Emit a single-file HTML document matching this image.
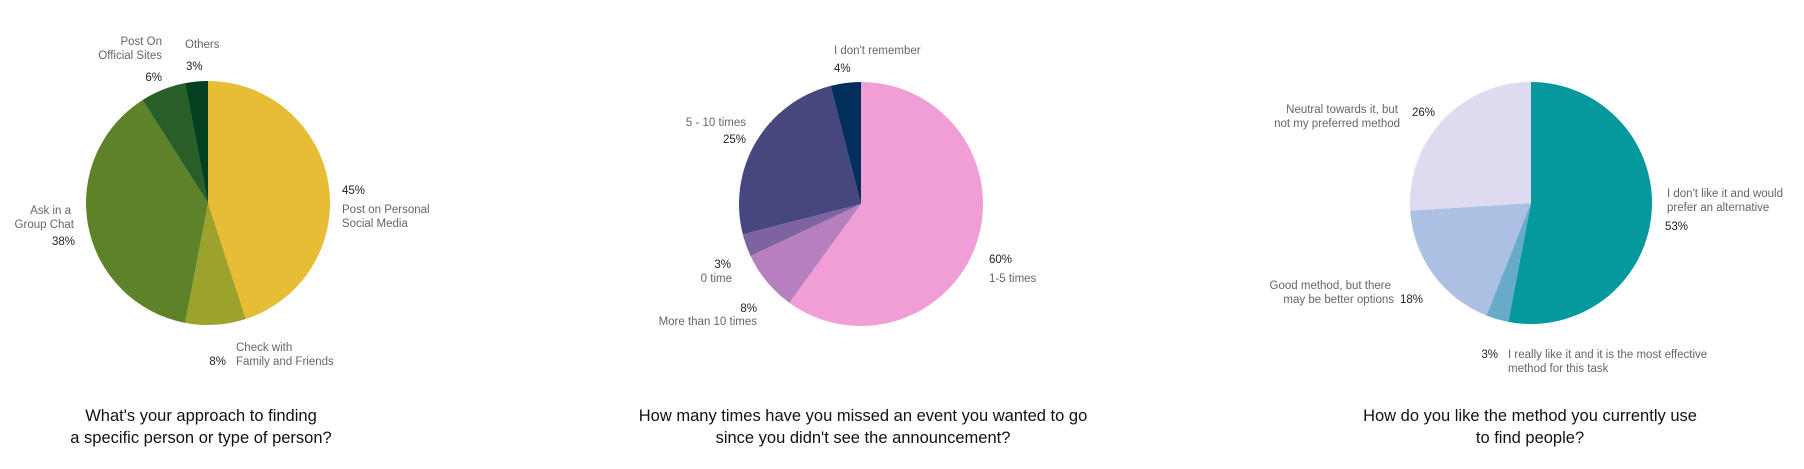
<!DOCTYPE html>
<html><head><meta charset="utf-8">
<style>
html,body{margin:0;padding:0;background:#fff;}
svg{display:block;}
text{font-family:"Liberation Sans",sans-serif;}
.lb{font-size:11.5px;fill:#666;}
.pc{font-size:11.5px;fill:#222;}
.tt{font-size:16.5px;fill:#111;}
</style></head>
<body>
<svg id="chart" width="1804" height="469" viewBox="0 0 1804 469" xmlns="http://www.w3.org/2000/svg">
<g id="c1"></g>
<g id="c2"></g>
<g id="c3"></g>

<g>
<text class="lb" x="162" y="45" text-anchor="end">Post On</text>
<text class="lb" x="162" y="59" text-anchor="end">Official Sites</text>
<text class="pc" x="162" y="81" text-anchor="end">6%</text>
<text class="lb" x="185" y="48">Others</text>
<text class="pc" x="186" y="70">3%</text>
<text class="pc" x="342" y="194">45%</text>
<text class="lb" x="342" y="213">Post on Personal</text>
<text class="lb" x="342" y="227">Social Media</text>
<text class="lb" x="71" y="214" text-anchor="end">Ask in a</text>
<text class="lb" x="74" y="228" text-anchor="end">Group Chat</text>
<text class="pc" x="75" y="245" text-anchor="end">38%</text>
<text class="lb" x="236" y="351">Check with</text>
<text class="lb" x="236" y="365">Family and Friends</text>
<text class="pc" x="226" y="365" text-anchor="end">8%</text>
<text class="tt" x="201" y="421" text-anchor="middle">What's your approach to finding</text>
<text class="tt" x="201" y="443" text-anchor="middle">a specific person or type of person?</text>
</g>

<g>
<text class="lb" x="834" y="54">I don't remember</text>
<text class="pc" x="834" y="72">4%</text>
<text class="lb" x="746" y="126" text-anchor="end">5 - 10 times</text>
<text class="pc" x="746" y="143" text-anchor="end">25%</text>
<text class="pc" x="731" y="268" text-anchor="end">3%</text>
<text class="lb" x="732" y="282" text-anchor="end">0 time</text>
<text class="pc" x="757" y="312" text-anchor="end">8%</text>
<text class="lb" x="757" y="325" text-anchor="end">More than 10 times</text>
<text class="pc" x="989" y="263">60%</text>
<text class="lb" x="989" y="282">1-5 times</text>
<text class="tt" x="863" y="421" text-anchor="middle">How many times have you missed an event you wanted to go</text>
<text class="tt" x="863" y="443" text-anchor="middle">since you didn't see the announcement?</text>
</g>

<g>
<text class="lb" x="1398" y="113" text-anchor="end">Neutral towards it, but</text>
<text class="lb" x="1400" y="127" text-anchor="end">not my preferred method</text>
<text class="pc" x="1412" y="116">26%</text>
<text class="lb" x="1667" y="197">I don't like it and would</text>
<text class="lb" x="1667" y="211">prefer an alternative</text>
<text class="pc" x="1665" y="230">53%</text>
<text class="lb" x="1391" y="289" text-anchor="end">Good method, but there</text>
<text class="lb" x="1394" y="303" text-anchor="end">may be better options</text>
<text class="pc" x="1400" y="303">18%</text>
<text class="pc" x="1498" y="358" text-anchor="end">3%</text>
<text class="lb" x="1508" y="358">I really like it and it is the most effective</text>
<text class="lb" x="1508" y="372">method for this task</text>
<text class="tt" x="1530" y="421" text-anchor="middle">How do you like the method you currently use</text>
<text class="tt" x="1530" y="443" text-anchor="middle">to find people?</text>
</g>
</svg>
<script>
const cats1 = ["Post on Personal Social Media","Check with Family and Friends","Ask in a Group Chat","Post On Official Sites","Others"];
const vals1 = [45, 8, 38, 6, 3];
const cols1 = ["#E6BD35","#9DA22D","#5D8229","#285E28","#02401F"];
const cats2 = ["1-5 times","More than 10 times","0 time","5 - 10 times","I don't remember"];
const vals2 = [60, 8, 3, 25, 4];
const cols2 = ["#F09ED5","#B67FBD","#7E63A0","#46477E","#022E5B"];
const cats3 = ["I don't like it","I really like it","Good method","Neutral"];
const vals3 = [53, 3, 18, 26];
const cols3 = ["#05989D","#67ABC8","#ABC0E3","#DEDBF1"];

function drawPie(gid, cats, vals, cols, cx, cy, r){
  const g = document.getElementById(gid);
  const total = vals.reduce((a,b)=>a+b,0);
  let acc = 0;
  vals.forEach((v,i)=>{
    const a0 = acc/total*2*Math.PI; acc += v;
    const a1 = acc/total*2*Math.PI;
    const x0 = cx + r*Math.sin(a0), y0 = cy - r*Math.cos(a0);
    const x1 = cx + r*Math.sin(a1), y1 = cy - r*Math.cos(a1);
    const large = (a1-a0) > Math.PI ? 1 : 0;
    const p = document.createElementNS("http://www.w3.org/2000/svg","path");
    p.setAttribute("d", `M${cx},${cy} L${x0},${y0} A${r},${r} 0 ${large} 1 ${x1},${y1} Z`);
    p.setAttribute("fill", cols[i]);
    
    
    g.appendChild(p);
  });
}
drawPie("c1", cats1, vals1, cols1, 208, 203, 122);
drawPie("c2", cats2, vals2, cols2, 861, 204, 122);
drawPie("c3", cats3, vals3, cols3, 1531, 203, 121);
</script>
</body></html>
